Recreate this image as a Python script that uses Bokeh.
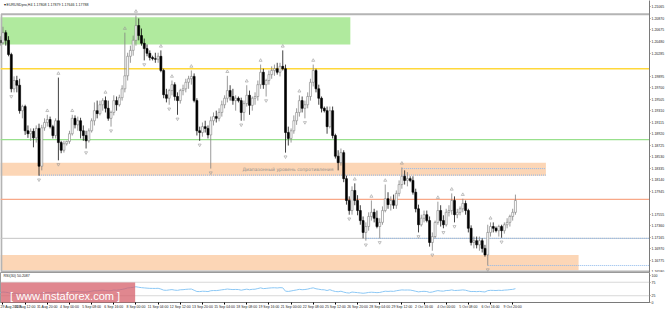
import numpy as np
from bokeh.plotting import figure
from bokeh.layouts import column
from bokeh.models import Range1d, FixedTicker, PrintfTickFormatter, Label, ColumnDataSource, Span
from bokeh.embed import file_html
from bokeh.resources import INLINE
from bokeh.core.properties import value

# ---------------- data (EURUSD H4) ----------------
HEADER_TEXT = "EURUSDpro,H4  1.17808 1.17879 1.17646 1.17788"
RSI_TEXT = "RSI(30) 50.2087"
ZONE_TEXT = "Диапазонный уровень сопротивления"

FIRST_OPEN = 1.2050
HIGH = [1.2057, 1.2073, 1.2067, 1.2057, 1.2029, 1.1989, 1.1990, 1.1985, 1.1941, 1.1941,
        1.1906, 1.1901, 1.1901, 1.1906, 1.1909, 1.1907, 1.1918, 1.1924, 1.1921, 1.1907,
        1.1918, 1.1987, 1.1880, 1.1880, 1.1880, 1.1897, 1.1924, 1.1923, 1.1921, 1.1919,
        1.1906, 1.1897, 1.1901, 1.1918, 1.1945, 1.1948, 1.1948, 1.1952, 1.1955, 1.1948,
        1.1931, 1.1957, 1.1955, 1.1958, 1.1974, 1.2063, 1.2029, 1.2041, 1.2058, 1.2092,
        1.2087, 1.2070, 1.2053, 1.2043, 1.2033, 1.2024, 1.2029, 1.2029, 1.2033, 1.2002,
        1.1968, 1.1968, 1.1982, 1.1979, 1.1962, 1.1968, 1.1975, 1.1985, 1.1990, 1.1999,
        1.1994, 1.1952, 1.1904, 1.1911, 1.1914, 1.1906, 1.1921, 1.1928, 1.1931, 1.1935,
        1.1948, 1.1957, 1.1990, 1.1974, 1.1968, 1.1957, 1.1955, 1.1953, 1.1948, 1.1974,
        1.1965, 1.1955, 1.1962, 1.1982, 1.2009, 1.2002, 1.1985, 1.1999, 1.2006, 1.2009,
        1.2012, 1.2012, 1.2033, 1.2009, 1.1904, 1.1901, 1.1923, 1.1935, 1.1957, 1.1955,
        1.1948, 1.1962, 1.1985, 1.2009, 1.2002, 1.1975, 1.1955, 1.1938, 1.1938, 1.1938,
        1.1938, 1.1892, 1.1864, 1.1867, 1.1864, 1.1821, 1.1786, 1.1803, 1.1808, 1.1788,
        1.1771, 1.1752, 1.1742, 1.1759, 1.1779, 1.1765, 1.1762, 1.1749, 1.1769, 1.1806,
        1.1793, 1.1786, 1.1789, 1.1796, 1.1813, 1.1835, 1.1830, 1.1827, 1.1820, 1.1820,
        1.1799, 1.1772, 1.1755, 1.1762, 1.1762, 1.1752, 1.1725, 1.1745, 1.1777, 1.1771,
        1.1754, 1.1765, 1.1771, 1.1791, 1.1786, 1.1765, 1.1769, 1.1782, 1.1779, 1.1765,
        1.1737, 1.1718, 1.1718, 1.1718, 1.1715, 1.1704, 1.1738, 1.1742, 1.1742, 1.1735,
        1.1738, 1.1738, 1.1742, 1.1749, 1.1755, 1.1765, 1.1789]
LOW = [1.2041, 1.2043, 1.2041, 1.2023, 1.1962, 1.1962, 1.1962, 1.1926, 1.1918, 1.1890,
       1.1885, 1.1880, 1.1869, 1.1877, 1.1821, 1.1830, 1.1897, 1.1904, 1.1901, 1.1884,
       1.1884, 1.1847, 1.1859, 1.1860, 1.1872, 1.1875, 1.1889, 1.1901, 1.1897, 1.1884,
       1.1880, 1.1867, 1.1877, 1.1894, 1.1906, 1.1918, 1.1923, 1.1931, 1.1928, 1.1914,
       1.1904, 1.1923, 1.1931, 1.1938, 1.1948, 1.1962, 1.1982, 1.2012, 1.2024, 1.2041,
       1.2050, 1.2041, 1.2016, 1.2023, 1.2016, 1.2016, 1.2012, 1.2012, 1.1996, 1.1952,
       1.1945, 1.1941, 1.1957, 1.1948, 1.1924, 1.1943, 1.1957, 1.1962, 1.1968, 1.1975,
       1.1945, 1.1889, 1.1880, 1.1887, 1.1894, 1.1884, 1.1833, 1.1906, 1.1911, 1.1913,
       1.1921, 1.1935, 1.1945, 1.1948, 1.1941, 1.1931, 1.1945, 1.1914, 1.1914, 1.1938,
       1.1924, 1.1931, 1.1941, 1.1948, 1.1968, 1.1968, 1.1955, 1.1975, 1.1985, 1.1990,
       1.1992, 1.1989, 1.1999, 1.1860, 1.1872, 1.1877, 1.1892, 1.1907, 1.1921, 1.1928,
       1.1918, 1.1935, 1.1948, 1.1972, 1.1962, 1.1941, 1.1928, 1.1928, 1.1892, 1.1901,
       1.1884, 1.1850, 1.1830, 1.1838, 1.1810, 1.1772, 1.1755, 1.1755, 1.1771, 1.1754,
       1.1738, 1.1715, 1.1711, 1.1728, 1.1745, 1.1742, 1.1732, 1.1715, 1.1738, 1.1759,
       1.1765, 1.1762, 1.1765, 1.1765, 1.1786, 1.1799, 1.1806, 1.1803, 1.1810, 1.1789,
       1.1759, 1.1725, 1.1735, 1.1742, 1.1742, 1.1701, 1.1694, 1.1715, 1.1738, 1.1735,
       1.1732, 1.1735, 1.1752, 1.1755, 1.1742, 1.1749, 1.1754, 1.1759, 1.1755, 1.1725,
       1.1703, 1.1698, 1.1698, 1.1694, 1.1691, 1.1684, 1.1669, 1.1718, 1.1725, 1.1725,
       1.1718, 1.1716, 1.1723, 1.1732, 1.1735, 1.1745, 1.1755]
CLOSE = [1.2046, 1.2063, 1.2050, 1.2026, 1.1968, 1.1982, 1.1974, 1.1931, 1.1938, 1.1897,
         1.1892, 1.1896, 1.1885, 1.1901, 1.1837, 1.1902, 1.1911, 1.1916, 1.1904, 1.1889,
         1.1914, 1.1877, 1.1864, 1.1875, 1.1879, 1.1892, 1.1918, 1.1907, 1.1914, 1.1897,
         1.1889, 1.1880, 1.1897, 1.1914, 1.1931, 1.1926, 1.1941, 1.1948, 1.1935, 1.1918,
         1.1928, 1.1948, 1.1941, 1.1953, 1.1968, 1.1990, 1.2023, 1.2033, 1.2050, 1.2075,
         1.2058, 1.2045, 1.2036, 1.2028, 1.2021, 1.2019, 1.2018, 1.2023, 1.1999, 1.1958,
         1.1952, 1.1965, 1.1975, 1.1955, 1.1948, 1.1965, 1.1968, 1.1979, 1.1985, 1.1989,
         1.1948, 1.1897, 1.1894, 1.1904, 1.1901, 1.1890, 1.1914, 1.1921, 1.1918, 1.1928,
         1.1941, 1.1952, 1.1965, 1.1955, 1.1948, 1.1952, 1.1948, 1.1928, 1.1943, 1.1957,
         1.1940, 1.1952, 1.1955, 1.1975, 1.1996, 1.1975, 1.1982, 1.1992, 1.1999, 1.2002,
         1.1996, 1.2006, 1.2002, 1.1894, 1.1884, 1.1897, 1.1914, 1.1928, 1.1948, 1.1935,
         1.1941, 1.1955, 1.1979, 1.1999, 1.1968, 1.1952, 1.1935, 1.1931, 1.1904, 1.1931,
         1.1889, 1.1854, 1.1843, 1.1860, 1.1816, 1.1779, 1.1762, 1.1796, 1.1779, 1.1762,
         1.1745, 1.1725, 1.1735, 1.1752, 1.1759, 1.1749, 1.1735, 1.1742, 1.1762, 1.1782,
         1.1772, 1.1779, 1.1771, 1.1791, 1.1806, 1.1820, 1.1813, 1.1816, 1.1813, 1.1793,
         1.1765, 1.1738, 1.1749, 1.1755, 1.1745, 1.1708, 1.1718, 1.1742, 1.1762, 1.1745,
         1.1738, 1.1759, 1.1762, 1.1779, 1.1755, 1.1759, 1.1765, 1.1774, 1.1762, 1.1732,
         1.1708, 1.1711, 1.1704, 1.1711, 1.1698, 1.1687, 1.1725, 1.1735, 1.1732, 1.1728,
         1.1735, 1.1728, 1.1738, 1.1742, 1.1752, 1.1759, 1.1779]

DATE_LABELS = ["29 Aug 2017", "30 Aug 12:00", "31 Aug 20:00", "4 Sep 00:00", "5 Sep 08:00",
               "6 Sep 16:00", "8 Sep 00:00", "11 Sep 04:00", "12 Sep 12:00", "13 Sep 20:00",
               "15 Sep 04:00", "18 Sep 08:00", "19 Sep 16:00", "21 Sep 00:00", "22 Sep 08:00",
               "25 Sep 12:00", "26 Sep 20:00", "28 Sep 04:00", "29 Sep 12:00", "2 Oct 16:00",
               "4 Oct 00:00", "5 Oct 08:00", "6 Oct 16:00", "9 Oct 20:00"]
PRICE_TICKS = [1.16580, 1.16775, 1.16970, 1.17165, 1.17360, 1.17555, 1.17945, 1.18140,
               1.18335, 1.18530, 1.18725, 1.18920, 1.19115, 1.19310, 1.19505, 1.19700,
               1.19895, 1.20285, 1.20480, 1.20675, 1.20870, 1.21065]
RSI_LEVELS = [0, 25, 75, 100]

# drawn levels and zones (prices)
GREEN_ZONE = (1.2043, 1.2089)
RESIST_ZONE = (1.1821, 1.1843)
SUPPORT_ZONE = (1.1661, 1.1687)
FRAME_BOX = (1.1659, 1.2094)
YELLOW_LEVEL = 1.2002
GREEN_LEVEL = 1.1882
SALMON_LEVEL = 1.1781
GREY_LEVEL = 1.1715
RES_TOP_DOT = 1.1833
RES_BOT_DOT = 1.1822
LOW_DOT = 1.1669
LAST_PRICE = 1.17788

# ---------------- derived ----------------
n = len(CLOSE)
idx = np.arange(n)
close = np.array(CLOSE)
opens = np.array([FIRST_OPEN] + CLOSE[:-1])
high = np.array(HIGH)
low = np.array(LOW)
bull = close >= opens

# RSI(30), Wilder smoothing
diff = np.diff(close, prepend=FIRST_OPEN)
gain = np.clip(diff, 0, None)
loss = np.clip(-diff, 0, None)
ag, al = gain[:30].mean(), loss[:30].mean()
rsi_vals = []
for g, l in zip(gain, loss):
    ag = (ag * 29 + g) / 30
    al = (al * 29 + l) / 30
    rsi_vals.append(100 * ag / (ag + al))

# fractals
up_fr = [i for i in range(2, n - 2) if high[i] > high[i - 1] and high[i] > high[i - 2]
         and high[i] >= high[i + 1] and high[i] >= high[i + 2]]
dn_fr = [i for i in range(2, n - 2) if low[i] < low[i - 1] and low[i] < low[i - 2]
         and low[i] <= low[i + 1] and low[i] <= low[i + 2]]

FONT = "Liberation Sans"
AX_FONT = "3.5px"
XR = Range1d(0.1, 234.4)
X_END = 240


def style_y(ax):
    ax.major_label_text_font_size = AX_FONT
    ax.major_label_text_font = FONT
    ax.major_label_text_color = "#222222"
    ax.major_tick_out = 1
    ax.major_tick_in = 0
    ax.minor_tick_out = 0
    ax.minor_tick_in = 0
    ax.major_label_standoff = 1
    ax.axis_line_color = "#7a7a7a"
    ax.major_tick_line_color = "#7a7a7a"


main = figure(frame_width=649, frame_height=272, x_range=XR, y_range=Range1d(1.16572, 1.21174),
              output_backend="svg", toolbar_location=None, x_axis_location=None,
              y_axis_location="right", min_border_left=0, min_border_top=0,
              min_border_bottom=0, min_border_right=16)
main.grid.visible = False
main.outline_line_color = None
ya = main.yaxis[0]
ya.ticker = FixedTicker(ticks=PRICE_TICKS)
ya.formatter = PrintfTickFormatter(format="%.5f")
style_y(ya)

# zones
main.quad(left=[0], right=[126.4], bottom=[GREEN_ZONE[0]], top=[GREEN_ZONE[1]],
          fill_color="#b0ea9e", line_color=None)
main.quad(left=[0], right=[197], bottom=[RESIST_ZONE[0]], top=[RESIST_ZONE[1]],
          fill_color="#fcd6b6", line_color=None)
main.quad(left=[0], right=[208.8], bottom=[SUPPORT_ZONE[0]], top=[SUPPORT_ZONE[1]],
          fill_color="#fcd6b6", line_color=None)
main.quad(left=[0.4], right=[X_END], bottom=[FRAME_BOX[0]], top=[FRAME_BOX[1]],
          fill_color=None, line_color="#b4b4b4", line_width=2)

# horizontal levels
main.segment(x0=[0], x1=[X_END], y0=[YELLOW_LEVEL], y1=[YELLOW_LEVEL], line_color="#ffd83a", line_width=1.6)
main.segment(x0=[0], x1=[X_END], y0=[GREEN_LEVEL], y1=[GREEN_LEVEL], line_color="#98e08c", line_width=1.4)
main.segment(x0=[0], x1=[X_END], y0=[SALMON_LEVEL], y1=[SALMON_LEVEL], line_color="#f8a888", line_width=1.4)
main.segment(x0=[0], x1=[X_END], y0=[GREY_LEVEL], y1=[GREY_LEVEL], line_color="#c4c4c4", line_width=1)
main.segment(x0=[145, 14, 132, 176], x1=[197, 197, X_END, X_END],
             y0=[RES_TOP_DOT, RES_BOT_DOT, GREY_LEVEL, LOW_DOT],
             y1=[RES_TOP_DOT, RES_BOT_DOT, GREY_LEVEL, LOW_DOT],
             line_color="#8cb8ec", line_width=1, line_dash="1 1")

main.text(x=[87.5], y=[(RESIST_ZONE[0] + RESIST_ZONE[1]) / 2], text=[ZONE_TEXT],
          text_font=value("DejaVu Sans"), text_font_size="4.5px", text_color="#8c8c8c",
          text_baseline="middle", text_align="left")

# candles
for mask, wick, fill, edge in [(bull, "#808080", "white", "#808080"), (~bull, "#111111", "black", "black")]:
    src = ColumnDataSource(dict(x=idx[mask], hi=high[mask], lo=low[mask],
                                top=np.maximum(opens, close)[mask], bot=np.minimum(opens, close)[mask]))
    main.segment(x0="x", x1="x", y0="lo", y1="hi", source=src, line_color=wick, line_width=0.8)
    main.vbar(x="x", width=0.72, top="top", bottom="bot", source=src,
              fill_color=fill, line_color=edge, line_width=0.6)

# fractals
main.scatter(x=up_fr, y=high[up_fr] + 0.0007, marker="triangle", size=3,
             fill_color=None, line_color="#999999", line_width=0.6)
main.scatter(x=dn_fr, y=low[dn_fr] - 0.0007, marker="inverted_triangle", size=3,
             fill_color=None, line_color="#999999", line_width=0.6)

# axis highlight labels
for yv, txt, bg, fg in [(YELLOW_LEVEL, "%.5f" % YELLOW_LEVEL, "#ffd83a", "#222222"),
                        (GREEN_LEVEL, "%.5f" % GREEN_LEVEL, "#98e08c", "#222222"),
                        (LAST_PRICE, "%.5f" % LAST_PRICE, "#111111", "white")]:
    main.add_layout(Label(x=234.4, y=yv, x_offset=1, text=txt, text_font_size=AX_FONT,
                          text_font=FONT, text_color=fg, text_baseline="middle",
                          background_fill_color=bg, background_fill_alpha=1.0))

main.add_layout(Label(x=0.1, y=1.21174, x_offset=3, y_offset=-2, text="▾ " + HEADER_TEXT,
                      text_font_size="3.6px", text_font=FONT, text_color="#222222",
                      text_baseline="top"))

# ---------------- RSI sub-window ----------------
rsi = figure(frame_width=649, frame_height=30, x_range=XR, y_range=Range1d(0, 111.1),
             output_backend="svg", toolbar_location=None, y_axis_location="right",
             min_border_left=0, min_border_top=0, min_border_bottom=0, min_border_right=16)
rsi.grid.visible = False
rsi.outline_line_color = "#9a9a9a"
rsi.line(idx, rsi_vals, line_color="#8cc8f5", line_width=1)
for lv in (25, 75):
    rsi.add_layout(Span(location=lv, dimension="width", line_color="#b0b0b0",
                        line_dash="1 1", line_width=1))
ry = rsi.yaxis[0]
ry.ticker = FixedTicker(ticks=RSI_LEVELS)
style_y(ry)

label_bars = list(range(1, 8 * len(DATE_LABELS), 8))
xa = rsi.xaxis[0]
xa.ticker = FixedTicker(ticks=label_bars)
xa.major_label_overrides = {b: t for b, t in zip(label_bars, DATE_LABELS)}
xa.major_label_text_font_size = AX_FONT
xa.major_label_text_font = FONT
xa.major_label_text_color = "#222222"
xa.major_label_text_align = "left"
xa.major_tick_out = 2
xa.major_tick_in = 0
xa.minor_tick_out = 0
xa.minor_tick_in = 0
xa.major_label_standoff = 0
xa.axis_line_color = "#7a7a7a"

rsi.add_layout(Label(x=0.1, y=111.1, x_offset=3, y_offset=-1, text=RSI_TEXT,
                     text_font_size="3.6px", text_font=FONT, text_color="#222222",
                     text_baseline="top"))
rsi.add_layout(Label(x=24.5, y=24, text="[  www.instaforex.com  ]", text_font_size="11px",
                     text_font=FONT, text_color="white", text_align="center",
                     text_baseline="middle", background_fill_color="#d65f69",
                     background_fill_alpha=0.75,
                     padding=dict(left=9, right=9, top=7, bottom=8)))

layout = column(main, rsi, spacing=0)
open("out.html", "w").write(file_html(layout, INLINE))
